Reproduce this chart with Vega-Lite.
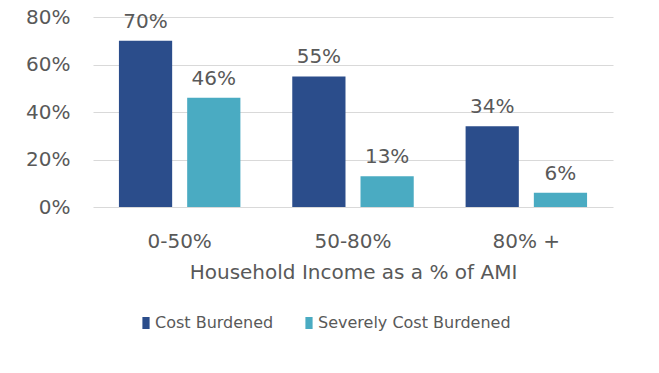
{
  "$schema": "https://vega.github.io/schema/vega-lite/v6.json",
  "width": 520,
  "height": 190,
  "autosize": "none",
  "padding": {"left": 93, "top": 17, "right": 46, "bottom": 166},
  "background": "white",
  "config": {"font": "DejaVu Sans", "view": {"stroke": null}},
  "data": {
    "values": [
      {"income": "0-50%", "burden": "Cost Burdened", "pct": 0.70},
      {"income": "0-50%", "burden": "Severely Cost Burdened", "pct": 0.46},
      {"income": "50-80%", "burden": "Cost Burdened", "pct": 0.55},
      {"income": "50-80%", "burden": "Severely Cost Burdened", "pct": 0.13},
      {"income": "80% +", "burden": "Cost Burdened", "pct": 0.34},
      {"income": "80% +", "burden": "Severely Cost Burdened", "pct": 0.06}
    ]
  },
  "encoding": {
    "x": {
      "field": "income",
      "type": "nominal",
      "sort": ["0-50%", "50-80%", "80% +"],
      "scale": {"paddingInner": 0, "paddingOuter": 0},
      "axis": {
        "domain": false,
        "ticks": false,
        "labelAngle": 0,
        "labelFontSize": 20,
        "labelColor": "#595959",
        "labelPadding": 40,
        "labelBaseline": "alphabetic",
        "title": "Household Income as a % of AMI",
        "titleFontSize": 20,
        "titleFontWeight": "normal",
        "titleColor": "#595959",
        "titleBaseline": "alphabetic",
        "titleY": 71
      }
    },
    "xOffset": {
      "field": "burden",
      "type": "nominal",
      "sort": ["Cost Burdened", "Severely Cost Burdened"],
      "scale": {"paddingInner": 0.22, "paddingOuter": 0.38}
    },
    "y": {
      "field": "pct",
      "type": "quantitative",
      "scale": {"domain": [0, 0.8]},
      "axis": {
        "values": [0, 0.2, 0.4, 0.6, 0.8],
        "format": ".0%",
        "grid": true,
        "gridColor": "#d9d9d9",
        "gridWidth": 1,
        "domain": false,
        "ticks": false,
        "labelFontSize": 20,
        "labelColor": "#595959",
        "labelPadding": 23,
        "title": null
      }
    }
  },
  "layer": [
    {
      "mark": {"type": "bar"},
      "encoding": {
        "color": {
          "field": "burden",
          "type": "nominal",
          "sort": ["Cost Burdened", "Severely Cost Burdened"],
          "scale": {"range": ["#2B4D8B", "#4AABC2"]},
          "legend": {
            "title": null,
            "orient": "none",
            "direction": "horizontal",
            "legendX": 45,
            "legendY": 298,
            "padding": 0,
            "symbolType": "M-0.6,-1H0.6V1H-0.6Z",
            "symbolSize": 144,
            "symbolStrokeWidth": 0,
            "labelFontSize": 16,
            "labelColor": "#595959",
            "labelOffset": 1,
            "labelLimit": 400,
            "columnPadding": 27
          }
        }
      }
    },
    {
      "mark": {"type": "text", "baseline": "alphabetic", "dy": -13, "fontSize": 20, "color": "#595959"},
      "encoding": {
        "text": {"field": "pct", "type": "quantitative", "format": ".0%"}
      }
    }
  ]
}
